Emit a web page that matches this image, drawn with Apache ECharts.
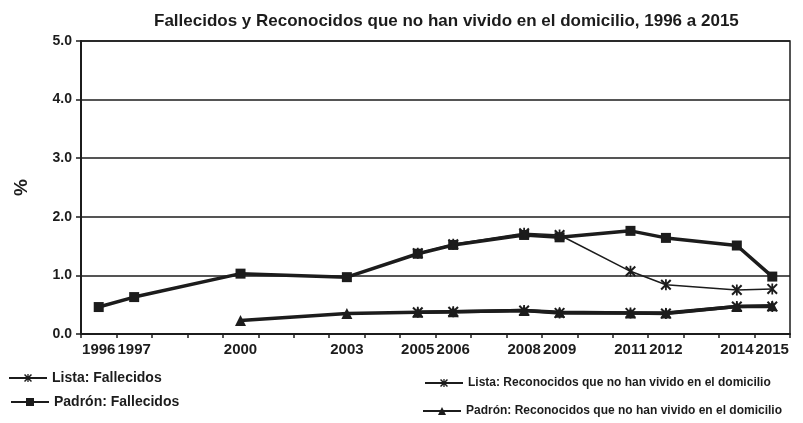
<!DOCTYPE html>
<html>
<head>
<meta charset="utf-8">
<script src="https://cdn.jsdelivr.net/npm/echarts@6/dist/echarts.min.js"></script>
<style>
  html, body { margin: 0; padding: 0; background: #fff; }
  #chart { width: 803px; height: 423px; }
</style>
</head>
<body>
<div id="chart"></div>
<script>
// years on the x axis, and the ones that get a label
const years = ['1996', '1997', '1998', '1999', '2000', '2001', '2002', '2003', '2004', '2005',
  '2006', '2007', '2008', '2009', '2010', '2011', '2012', '2013', '2014', '2015']
const labelYears = ['1996', '1997', '2000', '2003', '2005', '2006', '2008', '2009', '2011', '2012', '2014', '2015']
const yTicks = [0, 1, 2, 3, 4, 5]

// values in %, null where there is no data for that year
const listaFallecidos = [null, null, null, null, null, null, null, null, null, 1.38,
  1.53, null, 1.72, 1.69, null, 1.07, 0.84, null, 0.75, 0.77]
const padronFallecidos = [0.46, 0.63, null, null, 1.03, null, null, 0.97, null, 1.37,
  1.52, null, 1.69, 1.65, null, 1.76, 1.64, null, 1.51, 0.98]
const listaReconocidos = [null, null, null, null, null, null, null, null, null, 0.37,
  0.38, null, 0.40, 0.36, null, 0.36, 0.35, null, 0.47, 0.47]
const padronReconocidos = [null, null, null, null, 0.23, null, null, 0.35, null, 0.37,
  0.38, null, 0.40, 0.37, null, 0.36, 0.36, null, 0.47, 0.48]

const INK = '#1c1c1c'
const FONT = '"Liberation Sans", Arial, sans-serif'
const asterisk = 'path://M4.2,0L5.8,0L5.8,10L4.2,10Z M0,1.3L1.3,0L10,8.7L8.7,10Z M8.7,0L10,1.3L1.3,10L0,8.7Z'

const chart = echarts.init(document.getElementById('chart'), null, { renderer: 'canvas' })

function legendAt(name, left, top, size) {
  return {
    data: [name],
    left, top,
    padding: 0,
    itemWidth: 38,
    itemHeight: 10,
    itemGap: 4,
    textStyle: { color: INK, fontFamily: FONT, fontWeight: 'bold', fontSize: size },
  }
}

const lineSeries = (name, data, opts) => ({
  name,
  type: 'line',
  data,
  connectNulls: true,
  color: INK,
  lineStyle: { color: INK, width: opts.width },
  itemStyle: { color: INK },
  symbol: opts.symbol,
  symbolSize: opts.size,
  z: opts.z || 2,
})

chart.setOption({
  animation: false,
  backgroundColor: '#fff',
  title: {
    text: 'Fallecidos y Reconocidos que no han vivido en el domicilio, 1996 a 2015',
    left: 154,
    top: 13,
    padding: 0,
    textStyle: { color: INK, fontFamily: FONT, fontWeight: 'bold', fontSize: 17 },
  },
  legend: [
    legendAt('Lista: Fallecidos', 8, 371, 14),
    legendAt('Padrón: Fallecidos', 10, 395, 14),
    legendAt('Lista: Reconocidos que no han vivido en el domicilio', 424, 377, 12),
    legendAt('Padrón: Reconocidos que no han vivido en el domicilio', 422, 405, 12),
  ],
  grid: {
    left: 81, right: 13, top: 41, bottom: 89,
    show: true,
    borderColor: INK,
    borderWidth: 1.5,
    backgroundColor: 'transparent',
  },
  xAxis: {
    type: 'category',
    data: years,
    boundaryGap: true,
    axisLine: { lineStyle: { color: INK, width: 2 } },
    axisTick: { show: true, interval: 0, length: 4, lineStyle: { color: INK, width: 1.5 } },
    axisLabel: {
      interval: (i, v) => labelYears.includes(v),
      color: INK,
      fontFamily: FONT,
      fontWeight: 'bold',
      fontSize: 15,
      margin: 8,
    },
    splitLine: { show: false },
  },
  yAxis: {
    type: 'value',
    min: yTicks[0],
    max: yTicks[yTicks.length - 1],
    interval: 1,
    name: '%',
    nameLocation: 'middle',
    nameGap: 50,
    nameRotate: 90,
    nameTextStyle: { color: INK, fontFamily: FONT, fontWeight: 'bold', fontSize: 19 },
    axisLine: { show: true, lineStyle: { color: INK, width: 2 } },
    axisTick: { show: true, length: 5, lineStyle: { color: INK, width: 1.5 } },
    axisLabel: {
      formatter: (v) => v.toFixed(1),
      color: INK,
      fontFamily: FONT,
      fontWeight: 'bold',
      fontSize: 14,
      margin: 9,
    },
    splitLine: { show: true, lineStyle: { color: INK, width: 1.5 } },
  },
  series: [
    lineSeries('Lista: Fallecidos', listaFallecidos, { width: 1.5, symbol: asterisk, size: 11, z: 3 }),
    lineSeries('Padrón: Fallecidos', padronFallecidos, { width: 3.5, symbol: 'rect', size: 10 }),
    lineSeries('Lista: Reconocidos que no han vivido en el domicilio', listaReconocidos, { width: 3.5, symbol: asterisk, size: 11, z: 3 }),
    lineSeries('Padrón: Reconocidos que no han vivido en el domicilio', padronReconocidos, { width: 3.5, symbol: 'triangle', size: 11 }),
  ],
})
</script>
</body>
</html>
